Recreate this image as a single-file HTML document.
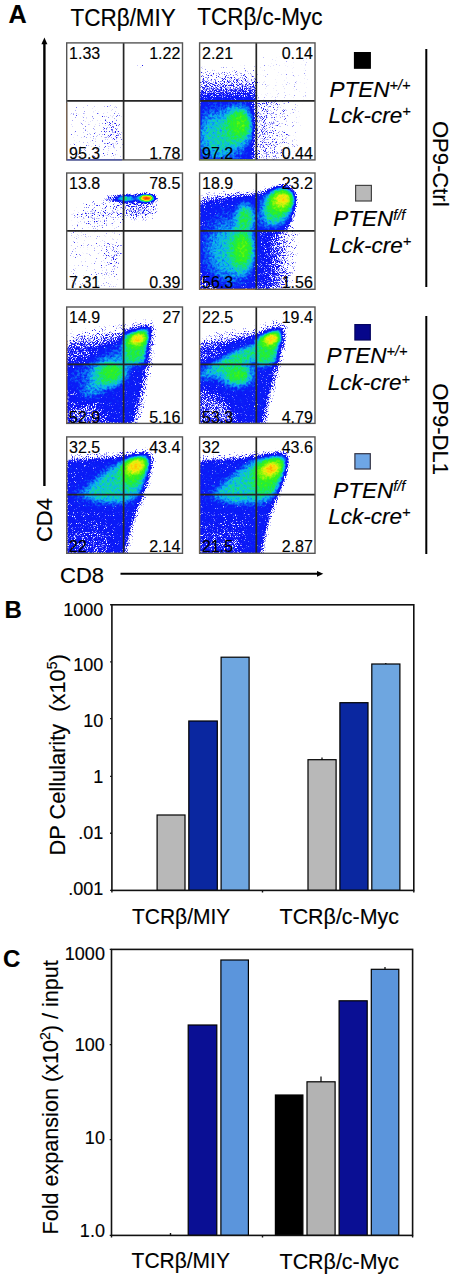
<!DOCTYPE html><html><head><meta charset="utf-8"><title>Figure</title><style>html,body{margin:0;padding:0;background:#fff}svg text{stroke:#000;stroke-width:0.15px;paint-order:stroke}body{width:453px;height:1280px;overflow:hidden;position:relative;font-family:"Liberation Sans",sans-serif}</style></head><body>
<svg width="453" height="1280" viewBox="0 0 453 1280" style="position:absolute;left:0;top:0" font-family='"Liberation Sans", sans-serif'>
<defs>
<filter id="jet0" filterUnits="userSpaceOnUse" x="0" y="0" width="453" height="600" color-interpolation-filters="sRGB">
<feGaussianBlur in="SourceGraphic" stdDeviation="1.4" result="d"/>
<feColorMatrix in="d" type="matrix" values="0 0 0 0 0 0 0 0 0 0 0 0 0 0 0 1 0 0 0 0" result="da"/>
<feTurbulence type="fractalNoise" baseFrequency="1.1" numOctaves="2" seed="3" result="n0"/>
<feColorMatrix in="n0" type="matrix" values="0 0 0 0 0 0 0 0 0 0 0 0 0 0 0 1 0 0 0 0" result="na"/>
<feComposite in="da" in2="na" operator="arithmetic" k1="0" k2="14" k3="6" k4="-4.7" result="cov0"/>
<feComponentTransfer in="da" result="msk"><feFuncA type="linear" slope="40" intercept="-1.2"/></feComponentTransfer>
<feComposite in="cov0" in2="msk" operator="in" result="cov"/>
<feTurbulence type="fractalNoise" baseFrequency="0.4" numOctaves="2" seed="11" result="m0"/>
<feColorMatrix in="m0" type="matrix" values="1 0 0 0 0 1 0 0 0 0 1 0 0 0 0 0 0 0 0 1" result="m"/>
<feComposite in="d" in2="m" operator="arithmetic" k1="0" k2="1" k3="0.16" k4="-0.08" result="dn"/>
<feComponentTransfer in="dn" result="col">
<feFuncR type="table" tableValues="0.15 0.13 0.12 0.08 0.05 0.04 0.04 0.04 0.05 0.07 0.12 0.22 0.45 0.72 0.95 1 1 1 1 1 1"/>
<feFuncG type="table" tableValues="0.12 0.11 0.1 0.09 0.08 0.1 0.12 0.4 0.7 0.85 0.93 0.95 0.97 0.96 0.93 0.8 0.65 0.5 0.35 0.2 0.1"/>
<feFuncB type="table" tableValues="0.92 0.93 0.95 0.96 0.97 0.97 0.97 0.96 0.95 0.6 0.25 0.1 0.05 0.05 0.05 0.02 0 0 0 0 0"/>
<feFuncA type="linear" slope="0" intercept="1"/>
</feComponentTransfer>
<feComposite in="col" in2="cov" operator="in"/>
<feGaussianBlur stdDeviation="0.6"/>
</filter>
<filter id="jet1" filterUnits="userSpaceOnUse" x="0" y="0" width="453" height="600" color-interpolation-filters="sRGB">
<feGaussianBlur in="SourceGraphic" stdDeviation="1.4" result="d"/>
<feColorMatrix in="d" type="matrix" values="0 0 0 0 0 0 0 0 0 0 0 0 0 0 0 1 0 0 0 0" result="da"/>
<feTurbulence type="fractalNoise" baseFrequency="1.1" numOctaves="2" seed="10" result="n0"/>
<feColorMatrix in="n0" type="matrix" values="0 0 0 0 0 0 0 0 0 0 0 0 0 0 0 1 0 0 0 0" result="na"/>
<feComposite in="da" in2="na" operator="arithmetic" k1="0" k2="14" k3="6" k4="-4.7" result="cov0"/>
<feComponentTransfer in="da" result="msk"><feFuncA type="linear" slope="40" intercept="-1.2"/></feComponentTransfer>
<feComposite in="cov0" in2="msk" operator="in" result="cov"/>
<feTurbulence type="fractalNoise" baseFrequency="0.4" numOctaves="2" seed="16" result="m0"/>
<feColorMatrix in="m0" type="matrix" values="1 0 0 0 0 1 0 0 0 0 1 0 0 0 0 0 0 0 0 1" result="m"/>
<feComposite in="d" in2="m" operator="arithmetic" k1="0" k2="1" k3="0.16" k4="-0.08" result="dn"/>
<feComponentTransfer in="dn" result="col">
<feFuncR type="table" tableValues="0.15 0.13 0.12 0.08 0.05 0.04 0.04 0.04 0.05 0.07 0.12 0.22 0.45 0.72 0.95 1 1 1 1 1 1"/>
<feFuncG type="table" tableValues="0.12 0.11 0.1 0.09 0.08 0.1 0.12 0.4 0.7 0.85 0.93 0.95 0.97 0.96 0.93 0.8 0.65 0.5 0.35 0.2 0.1"/>
<feFuncB type="table" tableValues="0.92 0.93 0.95 0.96 0.97 0.97 0.97 0.96 0.95 0.6 0.25 0.1 0.05 0.05 0.05 0.02 0 0 0 0 0"/>
<feFuncA type="linear" slope="0" intercept="1"/>
</feComponentTransfer>
<feComposite in="col" in2="cov" operator="in"/>
<feGaussianBlur stdDeviation="0.6"/>
</filter>
<filter id="jet2" filterUnits="userSpaceOnUse" x="0" y="0" width="453" height="600" color-interpolation-filters="sRGB">
<feGaussianBlur in="SourceGraphic" stdDeviation="1.4" result="d"/>
<feColorMatrix in="d" type="matrix" values="0 0 0 0 0 0 0 0 0 0 0 0 0 0 0 1 0 0 0 0" result="da"/>
<feTurbulence type="fractalNoise" baseFrequency="1.1" numOctaves="2" seed="17" result="n0"/>
<feColorMatrix in="n0" type="matrix" values="0 0 0 0 0 0 0 0 0 0 0 0 0 0 0 1 0 0 0 0" result="na"/>
<feComposite in="da" in2="na" operator="arithmetic" k1="0" k2="14" k3="6" k4="-4.7" result="cov0"/>
<feComponentTransfer in="da" result="msk"><feFuncA type="linear" slope="40" intercept="-1.2"/></feComponentTransfer>
<feComposite in="cov0" in2="msk" operator="in" result="cov"/>
<feTurbulence type="fractalNoise" baseFrequency="0.4" numOctaves="2" seed="21" result="m0"/>
<feColorMatrix in="m0" type="matrix" values="1 0 0 0 0 1 0 0 0 0 1 0 0 0 0 0 0 0 0 1" result="m"/>
<feComposite in="d" in2="m" operator="arithmetic" k1="0" k2="1" k3="0.16" k4="-0.08" result="dn"/>
<feComponentTransfer in="dn" result="col">
<feFuncR type="table" tableValues="0.15 0.13 0.12 0.08 0.05 0.04 0.04 0.04 0.05 0.07 0.12 0.22 0.45 0.72 0.95 1 1 1 1 1 1"/>
<feFuncG type="table" tableValues="0.12 0.11 0.1 0.09 0.08 0.1 0.12 0.4 0.7 0.85 0.93 0.95 0.97 0.96 0.93 0.8 0.65 0.5 0.35 0.2 0.1"/>
<feFuncB type="table" tableValues="0.92 0.93 0.95 0.96 0.97 0.97 0.97 0.96 0.95 0.6 0.25 0.1 0.05 0.05 0.05 0.02 0 0 0 0 0"/>
<feFuncA type="linear" slope="0" intercept="1"/>
</feComponentTransfer>
<feComposite in="col" in2="cov" operator="in"/>
<feGaussianBlur stdDeviation="0.6"/>
</filter>
<filter id="jet3" filterUnits="userSpaceOnUse" x="0" y="0" width="453" height="600" color-interpolation-filters="sRGB">
<feGaussianBlur in="SourceGraphic" stdDeviation="1.4" result="d"/>
<feColorMatrix in="d" type="matrix" values="0 0 0 0 0 0 0 0 0 0 0 0 0 0 0 1 0 0 0 0" result="da"/>
<feTurbulence type="fractalNoise" baseFrequency="1.1" numOctaves="2" seed="24" result="n0"/>
<feColorMatrix in="n0" type="matrix" values="0 0 0 0 0 0 0 0 0 0 0 0 0 0 0 1 0 0 0 0" result="na"/>
<feComposite in="da" in2="na" operator="arithmetic" k1="0" k2="14" k3="6" k4="-4.7" result="cov0"/>
<feComponentTransfer in="da" result="msk"><feFuncA type="linear" slope="40" intercept="-1.2"/></feComponentTransfer>
<feComposite in="cov0" in2="msk" operator="in" result="cov"/>
<feTurbulence type="fractalNoise" baseFrequency="0.4" numOctaves="2" seed="26" result="m0"/>
<feColorMatrix in="m0" type="matrix" values="1 0 0 0 0 1 0 0 0 0 1 0 0 0 0 0 0 0 0 1" result="m"/>
<feComposite in="d" in2="m" operator="arithmetic" k1="0" k2="1" k3="0.16" k4="-0.08" result="dn"/>
<feComponentTransfer in="dn" result="col">
<feFuncR type="table" tableValues="0.15 0.13 0.12 0.08 0.05 0.04 0.04 0.04 0.05 0.07 0.12 0.22 0.45 0.72 0.95 1 1 1 1 1 1"/>
<feFuncG type="table" tableValues="0.12 0.11 0.1 0.09 0.08 0.1 0.12 0.4 0.7 0.85 0.93 0.95 0.97 0.96 0.93 0.8 0.65 0.5 0.35 0.2 0.1"/>
<feFuncB type="table" tableValues="0.92 0.93 0.95 0.96 0.97 0.97 0.97 0.96 0.95 0.6 0.25 0.1 0.05 0.05 0.05 0.02 0 0 0 0 0"/>
<feFuncA type="linear" slope="0" intercept="1"/>
</feComponentTransfer>
<feComposite in="col" in2="cov" operator="in"/>
<feGaussianBlur stdDeviation="0.6"/>
</filter>
<filter id="bl1" x="-50%" y="-50%" width="200%" height="200%"><feGaussianBlur stdDeviation="1"/></filter><filter id="bl2" x="-50%" y="-50%" width="200%" height="200%"><feGaussianBlur stdDeviation="2"/></filter><filter id="bl3" x="-50%" y="-50%" width="200%" height="200%"><feGaussianBlur stdDeviation="3"/></filter><filter id="bl4" x="-50%" y="-50%" width="200%" height="200%"><feGaussianBlur stdDeviation="4"/></filter><filter id="bl5" x="-50%" y="-50%" width="200%" height="200%"><feGaussianBlur stdDeviation="5"/></filter><filter id="bl6" x="-50%" y="-50%" width="200%" height="200%"><feGaussianBlur stdDeviation="6"/></filter><filter id="bl8" x="-50%" y="-50%" width="200%" height="200%"><feGaussianBlur stdDeviation="8"/></filter>
<filter id="b2" x="-50%" y="-50%" width="200%" height="200%"><feGaussianBlur stdDeviation="2"/></filter>
<filter id="b4" x="-50%" y="-50%" width="200%" height="200%"><feGaussianBlur stdDeviation="4"/></filter>
<filter id="b6" x="-50%" y="-50%" width="200%" height="200%"><feGaussianBlur stdDeviation="6"/></filter>
<clipPath id="c00"><rect x="66.7" y="42.9" width="115.8" height="117.0"/></clipPath>
<clipPath id="c01"><rect x="199.6" y="42.9" width="115.4" height="117.0"/></clipPath>
<clipPath id="c10"><rect x="66.7" y="173.0" width="115.8" height="116.30000000000001"/></clipPath>
<clipPath id="c11"><rect x="199.6" y="173.0" width="115.4" height="116.30000000000001"/></clipPath>
<clipPath id="c20"><rect x="66.7" y="307.0" width="115.8" height="116.39999999999998"/></clipPath>
<clipPath id="c21"><rect x="199.6" y="307.0" width="115.4" height="116.39999999999998"/></clipPath>
<clipPath id="c30"><rect x="66.7" y="436.9" width="115.8" height="116.39999999999998"/></clipPath>
<clipPath id="c31"><rect x="199.6" y="436.9" width="115.4" height="116.39999999999998"/></clipPath>
</defs>
<text transform="translate(8.6 23.2)" font-size="25.2" text-anchor="start" font-weight="bold" font-style="normal" >A</text>
<text transform="translate(70.5 25.8) scale(1.0 1.05)" font-size="22.5" text-anchor="start" font-weight="normal" font-style="normal" >TCR&#946;/MIY</text>
<text transform="translate(197.2 25.3) scale(1.0 1.05)" font-size="22.5" text-anchor="start" font-weight="normal" font-style="normal" >TCR&#946;/c-Myc</text>
<g clip-path="url(#c00)">
<g filter="url(#jet0)">
<rect x="58.7" y="34.9" width="131.8" height="133.0" fill="#000"/>
<path d="M68.0 104.0L123.0 103.0L123.0 160.0L68.0 160.0Z" fill="#0d0d0d" filter="url(#bl4)"/><ellipse cx="112.0" cy="132.0" rx="14" ry="28" fill="url(#r10)"/><ellipse cx="140.0" cy="66.0" rx="5" ry="5" fill="url(#r10)"/>
</g></g>
<path d="M123.6 42.9V159.9M66.7 100.9H182.5" stroke="#252525" stroke-width="1.7" fill="none"/>
<rect x="66.7" y="42.9" width="115.8" height="117.0" fill="none" stroke="#555" stroke-width="1.4"/>
<text transform="translate(69.10000000000001 59.2)" font-size="16" text-anchor="start" font-weight="normal" font-style="normal" >1.33</text>
<text transform="translate(180.3 59.2)" font-size="16" text-anchor="end" font-weight="normal" font-style="normal" >1.22</text>
<text transform="translate(69.10000000000001 159.0)" font-size="16" text-anchor="start" font-weight="normal" font-style="normal" >95.3</text>
<text transform="translate(180.3 159.0)" font-size="16" text-anchor="end" font-weight="normal" font-style="normal" >1.78</text>
<g clip-path="url(#c01)">
<g filter="url(#jet1)">
<rect x="191.6" y="34.9" width="131.4" height="133.0" fill="#000"/>
<path d="M199.0 66.0L257.0 64.0L262.0 100.5L199.0 100.5Z" fill="url(#g01)"/><path d="M199.0 99.0L254.5 99.0L254.5 161.0L199.0 161.0Z" fill="#454545" filter="url(#bl1)"/><ellipse cx="220.0" cy="136.0" rx="34" ry="38" fill="url(#r44)"/><ellipse cx="239.0" cy="125.0" rx="19" ry="26" fill="url(#r52)"/><ellipse cx="240.0" cy="123.0" rx="11" ry="15" fill="url(#r55)"/><path d="M255.5 100.0L305.0 100.0L300.0 161.0L255.5 161.0Z" fill="url(#g01b)"/><path d="M257.0 55.0L310.0 55.0L310.0 100.0L257.0 100.0Z" fill="#0b0b0b"/>
</g></g>
<path d="M256.3 42.9V159.9M199.6 100.9H315.0" stroke="#252525" stroke-width="1.7" fill="none"/>
<rect x="199.6" y="42.9" width="115.4" height="117.0" fill="none" stroke="#555" stroke-width="1.4"/>
<text transform="translate(202.0 59.2)" font-size="16" text-anchor="start" font-weight="normal" font-style="normal" >2.21</text>
<text transform="translate(312.8 59.2)" font-size="16" text-anchor="end" font-weight="normal" font-style="normal" >0.14</text>
<text transform="translate(202.0 159.0)" font-size="16" text-anchor="start" font-weight="normal" font-style="normal" >97.2</text>
<text transform="translate(312.8 159.0)" font-size="16" text-anchor="end" font-weight="normal" font-style="normal" >0.44</text>
<g clip-path="url(#c10)">
<g filter="url(#jet2)">
<rect x="58.7" y="165.0" width="131.8" height="132.3" fill="#000"/>
<path d="M68.0 212.0L123.0 212.0L123.0 289.0L68.0 289.0Z" fill="#0b0b0b" filter="url(#bl4)"/><ellipse cx="112.0" cy="252.0" rx="14" ry="22" fill="url(#r9)"/><ellipse cx="100.0" cy="212.0" rx="34" ry="18" fill="url(#r10)"/><ellipse cx="138.0" cy="209.0" rx="30" ry="17" fill="url(#r14)"/><ellipse cx="128.0" cy="198.5" rx="24" ry="3.6" fill="#383838" filter="url(#bl1)"/><ellipse cx="126.0" cy="198.5" rx="13" ry="4.5" fill="url(#r50)"/><ellipse cx="146.0" cy="198.0" rx="14" ry="6" fill="url(#r52)"/><ellipse cx="147.0" cy="198.0" rx="8" ry="3.4" fill="url(#r70)"/><ellipse cx="146.5" cy="198.3" rx="5.5" ry="2.4" fill="#ffffff"/>
</g></g>
<path d="M123.6 173.0V289.3M66.7 230.9H182.5" stroke="#252525" stroke-width="1.7" fill="none"/>
<rect x="66.7" y="173.0" width="115.8" height="116.30000000000001" fill="none" stroke="#555" stroke-width="1.4"/>
<text transform="translate(69.10000000000001 189.3)" font-size="16" text-anchor="start" font-weight="normal" font-style="normal" >13.8</text>
<text transform="translate(180.3 189.3)" font-size="16" text-anchor="end" font-weight="normal" font-style="normal" >78.5</text>
<text transform="translate(69.10000000000001 288.40000000000003)" font-size="16" text-anchor="start" font-weight="normal" font-style="normal" >7.31</text>
<text transform="translate(180.3 288.40000000000003)" font-size="16" text-anchor="end" font-weight="normal" font-style="normal" >0.39</text>
<g clip-path="url(#c11)">
<g filter="url(#jet3)">
<rect x="191.6" y="165.0" width="131.4" height="132.3" fill="#000"/>
<path d="M199.0 191.0L257.0 187.0L289.0 183.0L295.0 190.0L290.0 230.0L199.0 230.0Z" fill="#0d0d0d" filter="url(#bl2)"/><path d="M199.0 196.0L257.0 190.0L289.0 186.0L295.0 192.0L291.0 230.0L199.0 230.0Z" fill="#1c1c1c" filter="url(#bl2)"/><path d="M199.0 200.0L257.0 193.0L287.0 188.0L294.0 194.0L291.0 230.0L199.0 230.0Z" fill="#2e2e2e" filter="url(#bl2)"/><path d="M199.0 204.0L230.0 199.0L257.0 194.5L285.0 190.0L293.0 196.0L291.0 215.0L283.0 230.0L199.0 230.0Z" fill="#454545" filter="url(#bl1)"/><path d="M256.0 229.0L303.0 229.0L292.0 290.0L256.0 290.0Z" fill="url(#g11b)" filter="url(#bl2)"/><path d="M199.0 229.0L256.0 229.0L256.0 290.0L199.0 290.0Z" fill="#454545" filter="url(#bl1)"/><path d="M199.0 270.0L224.0 290.0L199.0 290.0Z" fill="#2b2b2b" filter="url(#bl3)"/><ellipse cx="229.0" cy="250.0" rx="34" ry="46" fill="url(#r42)"/><ellipse cx="242.0" cy="250.0" rx="16" ry="30" fill="url(#r53)"/><ellipse cx="243.0" cy="248.0" rx="9" ry="16" fill="url(#r56)"/><ellipse cx="245.0" cy="218.0" rx="13" ry="20" fill="url(#r50)"/><ellipse cx="276.0" cy="210.0" rx="22" ry="30" fill="url(#r42)" transform="rotate(30 276 210)"/><ellipse cx="279.0" cy="204.0" rx="17" ry="23" fill="url(#r54)" transform="rotate(30 279 204)"/><ellipse cx="282.0" cy="200.0" rx="15" ry="13" fill="url(#r66)"/><ellipse cx="283.0" cy="199.0" rx="8" ry="7" fill="url(#r72)"/>
</g></g>
<path d="M256.3 173.0V289.3M199.6 230.9H315.0" stroke="#252525" stroke-width="1.7" fill="none"/>
<rect x="199.6" y="173.0" width="115.4" height="116.30000000000001" fill="none" stroke="#555" stroke-width="1.4"/>
<text transform="translate(202.0 189.3)" font-size="16" text-anchor="start" font-weight="normal" font-style="normal" >18.9</text>
<text transform="translate(312.8 189.3)" font-size="16" text-anchor="end" font-weight="normal" font-style="normal" >23.2</text>
<text transform="translate(202.0 288.40000000000003)" font-size="16" text-anchor="start" font-weight="normal" font-style="normal" >56.3</text>
<text transform="translate(312.8 288.40000000000003)" font-size="16" text-anchor="end" font-weight="normal" font-style="normal" >1.56</text>
<g clip-path="url(#c20)">
<g filter="url(#jet0)">
<rect x="58.7" y="299.0" width="131.8" height="132.39999999999998" fill="#000"/>
<path d="M67.0 328.0L123.0 321.0L152.0 315.0L158.0 322.0L153.0 365.0L147.0 395.0L141.0 424.0L67.0 424.0Z" fill="#0d0d0d" filter="url(#bl3)"/><path d="M67.0 336.0L123.0 327.0L150.0 322.0L154.0 328.0L151.0 365.0L145.0 395.0L138.0 424.0L67.0 424.0Z" fill="#1f1f1f" filter="url(#bl3)"/><path d="M67.0 344.0L123.0 333.0L150.0 325.0L152.0 330.0L149.0 365.0L143.0 395.0L136.0 424.0L67.0 424.0Z" fill="#2b2b2b" filter="url(#bl3)"/><path d="M67.0 353.0L100.0 346.0L123.0 339.0L149.0 328.0L147.0 345.0L145.0 364.0L139.0 395.0L132.0 424.0L67.0 424.0Z" fill="#454545" filter="url(#bl1)"/><path d="M67.0 386.0L67.0 424.0L112.0 424.0L90.0 398.0Z" fill="#2b2b2b" filter="url(#bl4)"/><path d="M66.0 346.0L92.0 341.0L96.0 356.0L66.0 366.0Z" fill="#333333" filter="url(#bl4)"/><ellipse cx="100.0" cy="364.0" rx="60" ry="12" fill="url(#r34)" transform="rotate(-30 100 364)"/><ellipse cx="104.0" cy="378.0" rx="48" ry="16" fill="url(#r40)" transform="rotate(-40 104 378)"/><path d="M123.0 334.0L149.0 327.0L147.0 346.0L145.0 364.0L123.0 367.0Z" fill="#6b6b6b" filter="url(#bl2)"/><path d="M125.0 337.0L136.0 333.0L148.0 329.0L146.0 345.0L143.0 357.0L133.0 362.0L125.0 361.0Z" fill="#808080" filter="url(#bl2)"/><ellipse cx="110.0" cy="374.0" rx="22" ry="17" fill="url(#r50)"/><ellipse cx="112.0" cy="371.0" rx="12" ry="9" fill="url(#r53)"/><ellipse cx="137.6" cy="339.5" rx="13" ry="9" fill="url(#r64)" transform="rotate(-20 137.6 339.5)"/><ellipse cx="137.6" cy="339.0" rx="9" ry="6.5" fill="url(#r74)" transform="rotate(-20 137.6 339)"/>
</g></g>
<path d="M123.6 307.0V423.4M66.7 364.4H182.5" stroke="#252525" stroke-width="1.7" fill="none"/>
<rect x="66.7" y="307.0" width="115.8" height="116.39999999999998" fill="none" stroke="#555" stroke-width="1.4"/>
<text transform="translate(69.10000000000001 323.3)" font-size="16" text-anchor="start" font-weight="normal" font-style="normal" >14.9</text>
<text transform="translate(180.3 323.3)" font-size="16" text-anchor="end" font-weight="normal" font-style="normal" >27</text>
<text transform="translate(69.10000000000001 422.5)" font-size="16" text-anchor="start" font-weight="normal" font-style="normal" >52.9</text>
<text transform="translate(180.3 422.5)" font-size="16" text-anchor="end" font-weight="normal" font-style="normal" >5.16</text>
<g clip-path="url(#c21)">
<g filter="url(#jet1)">
<rect x="191.6" y="299.0" width="131.4" height="132.39999999999998" fill="#000"/>
<path d="M199.0 332.0L256.0 324.0L284.0 315.0L290.0 322.0L283.0 365.0L274.0 395.0L268.0 424.0L199.0 424.0Z" fill="#0d0d0d" filter="url(#bl3)"/><path d="M199.0 338.0L256.0 329.0L283.0 321.0L287.0 328.0L280.0 365.0L271.0 395.0L265.0 424.0L199.0 424.0Z" fill="#1a1a1a" filter="url(#bl3)"/><path d="M199.0 344.0L256.0 334.0L283.0 325.0L285.0 330.0L279.0 365.0L270.0 395.0L264.0 424.0L199.0 424.0Z" fill="#2b2b2b" filter="url(#bl3)"/><path d="M199.0 350.0L224.0 344.0L256.0 336.0L281.0 328.0L278.0 345.0L275.0 366.0L268.0 395.0L262.0 424.0L199.0 424.0Z" fill="#454545" filter="url(#bl1)"/><path d="M199.0 386.0L199.0 424.0L244.0 424.0L222.0 398.0Z" fill="#2b2b2b" filter="url(#bl4)"/><path d="M198.0 349.0L222.0 344.0L226.0 356.0L198.0 364.0Z" fill="#333333" filter="url(#bl4)"/><ellipse cx="232.0" cy="364.0" rx="62" ry="14" fill="url(#r36)" transform="rotate(-22 232 364)"/><ellipse cx="240.0" cy="358.0" rx="50" ry="11" fill="url(#r47)" transform="rotate(-24 240 358)"/><path d="M256.0 337.0L281.0 329.0L278.0 346.0L276.0 364.0L256.0 368.0Z" fill="#6b6b6b" filter="url(#bl2)"/><path d="M258.0 340.0L270.0 335.0L280.0 331.0L277.0 347.0L274.0 358.0L264.0 363.0L258.0 362.0Z" fill="#808080" filter="url(#bl2)"/><ellipse cx="237.0" cy="375.0" rx="24" ry="17" fill="url(#r48)"/><ellipse cx="238.0" cy="375.0" rx="13" ry="9" fill="url(#r53)"/><ellipse cx="271.0" cy="339.5" rx="13" ry="9" fill="url(#r64)" transform="rotate(-20 271 339.5)"/><ellipse cx="271.0" cy="339.0" rx="9" ry="6.5" fill="url(#r74)" transform="rotate(-20 271 339)"/>
</g></g>
<path d="M256.3 307.0V423.4M199.6 364.4H315.0" stroke="#252525" stroke-width="1.7" fill="none"/>
<rect x="199.6" y="307.0" width="115.4" height="116.39999999999998" fill="none" stroke="#555" stroke-width="1.4"/>
<text transform="translate(202.0 323.3)" font-size="16" text-anchor="start" font-weight="normal" font-style="normal" >22.5</text>
<text transform="translate(312.8 323.3)" font-size="16" text-anchor="end" font-weight="normal" font-style="normal" >19.4</text>
<text transform="translate(202.0 422.5)" font-size="16" text-anchor="start" font-weight="normal" font-style="normal" >53.3</text>
<text transform="translate(312.8 422.5)" font-size="16" text-anchor="end" font-weight="normal" font-style="normal" >4.79</text>
<g clip-path="url(#c30)">
<g filter="url(#jet2)">
<rect x="58.7" y="428.9" width="131.8" height="132.39999999999998" fill="#000"/>
<path d="M67.0 452.0L123.0 449.0L152.0 445.0L158.0 452.0L152.0 480.0L146.0 500.0L137.0 525.0L131.0 554.0L67.0 554.0Z" fill="#0f0f0f" filter="url(#bl3)"/><path d="M67.0 457.0L123.0 453.0L150.0 450.0L154.0 457.0L148.0 480.0L143.0 500.0L134.0 525.0L128.0 554.0L67.0 554.0Z" fill="#212121" filter="url(#bl2)"/><path d="M67.0 461.0L123.0 458.0L149.0 456.0L146.0 478.0L141.0 497.0L131.0 524.0L124.0 554.0L67.0 554.0Z" fill="#454545" filter="url(#bl1)"/><path d="M67.0 508.0L115.0 508.0L110.0 554.0L67.0 554.0Z" fill="url(#g30b)" filter="url(#bl3)"/><path d="M70.0 496.0L108.0 469.0L123.0 461.0L147.0 457.0L145.0 478.0L138.0 495.0L125.0 503.0L96.0 503.0Z" fill="#5c5c5c" filter="url(#bl4)"/><path d="M84.0 494.0L106.0 472.0L123.0 463.0L146.0 458.0L145.0 478.0L138.0 495.0L125.0 502.0L98.0 501.0Z" fill="#6e6e6e" filter="url(#bl3)"/><path d="M122.0 465.0L135.0 459.5L147.0 458.0L145.0 472.0L138.0 484.0L127.0 487.0L120.0 480.0Z" fill="#858585" filter="url(#bl3)"/><ellipse cx="135.4" cy="466.5" rx="17" ry="12" fill="url(#r66)" transform="rotate(-25 135.4 466.5)"/><ellipse cx="135.4" cy="466.3" rx="11" ry="8" fill="url(#r74)" transform="rotate(-25 135.4 466.3)"/>
</g></g>
<path d="M123.6 436.9V553.3M66.7 494.6H182.5" stroke="#252525" stroke-width="1.7" fill="none"/>
<rect x="66.7" y="436.9" width="115.8" height="116.39999999999998" fill="none" stroke="#555" stroke-width="1.4"/>
<text transform="translate(69.10000000000001 453.2)" font-size="16" text-anchor="start" font-weight="normal" font-style="normal" >32.5</text>
<text transform="translate(180.3 453.2)" font-size="16" text-anchor="end" font-weight="normal" font-style="normal" >43.4</text>
<text transform="translate(69.10000000000001 552.4)" font-size="16" text-anchor="start" font-weight="normal" font-style="normal" >22</text>
<text transform="translate(180.3 552.4)" font-size="16" text-anchor="end" font-weight="normal" font-style="normal" >2.14</text>
<g clip-path="url(#c31)">
<g filter="url(#jet3)">
<rect x="191.6" y="428.9" width="131.4" height="132.39999999999998" fill="#000"/>
<path d="M199.0 454.0L256.0 449.0L286.0 447.0L292.0 453.0L284.0 480.0L279.0 500.0L272.0 525.0L266.0 554.0L199.0 554.0Z" fill="#0f0f0f" filter="url(#bl3)"/><path d="M199.0 458.0L256.0 454.0L284.0 451.0L289.0 457.0L281.0 480.0L276.0 500.0L269.0 525.0L263.0 554.0L199.0 554.0Z" fill="#212121" filter="url(#bl2)"/><path d="M199.0 462.0L224.0 460.0L256.0 457.0L285.0 455.5L280.0 478.0L276.0 496.0L267.0 524.0L260.0 554.0L199.0 554.0Z" fill="#454545" filter="url(#bl1)"/><path d="M199.0 508.0L248.0 508.0L243.0 554.0L199.0 554.0Z" fill="url(#g31b)" filter="url(#bl3)"/><path d="M205.0 497.0L232.0 476.0L243.0 467.0L256.0 460.0L284.0 457.0L282.0 476.0L275.0 495.0L262.0 503.0L230.0 504.0Z" fill="#5c5c5c" filter="url(#bl4)"/><path d="M214.0 495.0L232.0 478.0L244.0 469.0L256.0 462.0L284.0 457.0L282.0 476.0L275.0 495.0L262.0 502.0L232.0 502.0Z" fill="#6e6e6e" filter="url(#bl3)"/><path d="M254.0 466.0L268.0 460.0L285.0 457.0L282.0 474.0L274.0 489.0L262.0 494.0L252.0 486.0Z" fill="#858585" filter="url(#bl3)"/><ellipse cx="270.0" cy="469.5" rx="18" ry="12" fill="url(#r67)" transform="rotate(-25 270 469.5)"/><ellipse cx="271.0" cy="469.0" rx="9" ry="6" fill="url(#r78)" transform="rotate(-25 271 469)"/>
</g></g>
<path d="M256.3 436.9V553.3M199.6 494.6H315.0" stroke="#252525" stroke-width="1.7" fill="none"/>
<rect x="199.6" y="436.9" width="115.4" height="116.39999999999998" fill="none" stroke="#555" stroke-width="1.4"/>
<text transform="translate(202.0 453.2)" font-size="16" text-anchor="start" font-weight="normal" font-style="normal" >32</text>
<text transform="translate(312.8 453.2)" font-size="16" text-anchor="end" font-weight="normal" font-style="normal" >43.6</text>
<text transform="translate(202.0 552.4)" font-size="16" text-anchor="start" font-weight="normal" font-style="normal" >21.5</text>
<text transform="translate(312.8 552.4)" font-size="16" text-anchor="end" font-weight="normal" font-style="normal" >2.87</text>
<path d="M66.7 103L66.7 159.9" stroke="#8a6a50" stroke-width="1.3" stroke-opacity="0.65"/>
<path d="M67 159.9L122 159.9" stroke="#3040d0" stroke-width="1.3" stroke-opacity="0.65"/>
<path d="M200 159.9L255 159.9" stroke="#90b040" stroke-width="1.3" stroke-opacity="0.65"/>
<path d="M199.6 103L199.6 159.9" stroke="#707050" stroke-width="1.3" stroke-opacity="0.65"/>
<path d="M200 289.3L255 289.3" stroke="#c08030" stroke-width="1.3" stroke-opacity="0.65"/>
<path d="M199.6 195L199.6 289.3" stroke="#806040" stroke-width="1.3" stroke-opacity="0.65"/>
<path d="M66.7 340L66.7 423.4" stroke="#8a6040" stroke-width="1.3" stroke-opacity="0.65"/>
<path d="M199.6 345L199.6 423.4" stroke="#807050" stroke-width="1.3" stroke-opacity="0.65"/>
<path d="M66.7 460L66.7 553.3" stroke="#7a6a50" stroke-width="1.3" stroke-opacity="0.65"/>
<path d="M199.6 462L199.6 553.3" stroke="#7a6a50" stroke-width="1.3" stroke-opacity="0.65"/>
<defs><radialGradient id="r10"><stop offset="0" stop-color="#1a1a1a"/><stop offset="0.35" stop-color="#1a1a1a" stop-opacity="0.9"/><stop offset="0.7" stop-color="#1a1a1a" stop-opacity="0.4"/><stop offset="1" stop-color="#1a1a1a" stop-opacity="0"/></radialGradient><linearGradient id="g01" gradientUnits="userSpaceOnUse" x1="0" y1="68" x2="0" y2="100"><stop offset="0" stop-color="#0d0d0d"/><stop offset="0.35" stop-color="#1c1c1c"/><stop offset="0.7" stop-color="#2b2b2b"/><stop offset="1" stop-color="#454545"/></linearGradient><radialGradient id="r44"><stop offset="0" stop-color="#707070"/><stop offset="0.35" stop-color="#707070" stop-opacity="0.9"/><stop offset="0.7" stop-color="#707070" stop-opacity="0.4"/><stop offset="1" stop-color="#707070" stop-opacity="0"/></radialGradient><radialGradient id="r52"><stop offset="0" stop-color="#858585"/><stop offset="0.35" stop-color="#858585" stop-opacity="0.9"/><stop offset="0.7" stop-color="#858585" stop-opacity="0.4"/><stop offset="1" stop-color="#858585" stop-opacity="0"/></radialGradient><radialGradient id="r55"><stop offset="0" stop-color="#8c8c8c"/><stop offset="0.35" stop-color="#8c8c8c" stop-opacity="0.9"/><stop offset="0.7" stop-color="#8c8c8c" stop-opacity="0.4"/><stop offset="1" stop-color="#8c8c8c" stop-opacity="0"/></radialGradient><linearGradient id="g01b" gradientUnits="userSpaceOnUse" x1="256" y1="0" x2="300" y2="0"><stop offset="0" stop-color="#1f1f1f"/><stop offset="1" stop-color="#090909"/></linearGradient><radialGradient id="r9"><stop offset="0" stop-color="#171717"/><stop offset="0.35" stop-color="#171717" stop-opacity="0.9"/><stop offset="0.7" stop-color="#171717" stop-opacity="0.4"/><stop offset="1" stop-color="#171717" stop-opacity="0"/></radialGradient><radialGradient id="r14"><stop offset="0" stop-color="#242424"/><stop offset="0.35" stop-color="#242424" stop-opacity="0.9"/><stop offset="0.7" stop-color="#242424" stop-opacity="0.4"/><stop offset="1" stop-color="#242424" stop-opacity="0"/></radialGradient><radialGradient id="r50"><stop offset="0" stop-color="#808080"/><stop offset="0.35" stop-color="#808080" stop-opacity="0.9"/><stop offset="0.7" stop-color="#808080" stop-opacity="0.4"/><stop offset="1" stop-color="#808080" stop-opacity="0"/></radialGradient><radialGradient id="r70"><stop offset="0" stop-color="#b2b2b2"/><stop offset="0.35" stop-color="#b2b2b2" stop-opacity="0.9"/><stop offset="0.7" stop-color="#b2b2b2" stop-opacity="0.4"/><stop offset="1" stop-color="#b2b2b2" stop-opacity="0"/></radialGradient><linearGradient id="g11b" gradientUnits="userSpaceOnUse" x1="257" y1="0" x2="300" y2="0"><stop offset="0" stop-color="#454545"/><stop offset="0.4" stop-color="#303030"/><stop offset="1" stop-color="#0a0a0a"/></linearGradient><radialGradient id="r42"><stop offset="0" stop-color="#6b6b6b"/><stop offset="0.35" stop-color="#6b6b6b" stop-opacity="0.9"/><stop offset="0.7" stop-color="#6b6b6b" stop-opacity="0.4"/><stop offset="1" stop-color="#6b6b6b" stop-opacity="0"/></radialGradient><radialGradient id="r53"><stop offset="0" stop-color="#878787"/><stop offset="0.35" stop-color="#878787" stop-opacity="0.9"/><stop offset="0.7" stop-color="#878787" stop-opacity="0.4"/><stop offset="1" stop-color="#878787" stop-opacity="0"/></radialGradient><radialGradient id="r56"><stop offset="0" stop-color="#8f8f8f"/><stop offset="0.35" stop-color="#8f8f8f" stop-opacity="0.9"/><stop offset="0.7" stop-color="#8f8f8f" stop-opacity="0.4"/><stop offset="1" stop-color="#8f8f8f" stop-opacity="0"/></radialGradient><radialGradient id="r54"><stop offset="0" stop-color="#8a8a8a"/><stop offset="0.35" stop-color="#8a8a8a" stop-opacity="0.9"/><stop offset="0.7" stop-color="#8a8a8a" stop-opacity="0.4"/><stop offset="1" stop-color="#8a8a8a" stop-opacity="0"/></radialGradient><radialGradient id="r66"><stop offset="0" stop-color="#a8a8a8"/><stop offset="0.35" stop-color="#a8a8a8" stop-opacity="0.9"/><stop offset="0.7" stop-color="#a8a8a8" stop-opacity="0.4"/><stop offset="1" stop-color="#a8a8a8" stop-opacity="0"/></radialGradient><radialGradient id="r72"><stop offset="0" stop-color="#b8b8b8"/><stop offset="0.35" stop-color="#b8b8b8" stop-opacity="0.9"/><stop offset="0.7" stop-color="#b8b8b8" stop-opacity="0.4"/><stop offset="1" stop-color="#b8b8b8" stop-opacity="0"/></radialGradient><radialGradient id="r34"><stop offset="0" stop-color="#575757"/><stop offset="0.35" stop-color="#575757" stop-opacity="0.9"/><stop offset="0.7" stop-color="#575757" stop-opacity="0.4"/><stop offset="1" stop-color="#575757" stop-opacity="0"/></radialGradient><radialGradient id="r40"><stop offset="0" stop-color="#666666"/><stop offset="0.35" stop-color="#666666" stop-opacity="0.9"/><stop offset="0.7" stop-color="#666666" stop-opacity="0.4"/><stop offset="1" stop-color="#666666" stop-opacity="0"/></radialGradient><radialGradient id="r64"><stop offset="0" stop-color="#a3a3a3"/><stop offset="0.35" stop-color="#a3a3a3" stop-opacity="0.9"/><stop offset="0.7" stop-color="#a3a3a3" stop-opacity="0.4"/><stop offset="1" stop-color="#a3a3a3" stop-opacity="0"/></radialGradient><radialGradient id="r74"><stop offset="0" stop-color="#bdbdbd"/><stop offset="0.35" stop-color="#bdbdbd" stop-opacity="0.9"/><stop offset="0.7" stop-color="#bdbdbd" stop-opacity="0.4"/><stop offset="1" stop-color="#bdbdbd" stop-opacity="0"/></radialGradient><radialGradient id="r36"><stop offset="0" stop-color="#5c5c5c"/><stop offset="0.35" stop-color="#5c5c5c" stop-opacity="0.9"/><stop offset="0.7" stop-color="#5c5c5c" stop-opacity="0.4"/><stop offset="1" stop-color="#5c5c5c" stop-opacity="0"/></radialGradient><radialGradient id="r47"><stop offset="0" stop-color="#787878"/><stop offset="0.35" stop-color="#787878" stop-opacity="0.9"/><stop offset="0.7" stop-color="#787878" stop-opacity="0.4"/><stop offset="1" stop-color="#787878" stop-opacity="0"/></radialGradient><radialGradient id="r48"><stop offset="0" stop-color="#7a7a7a"/><stop offset="0.35" stop-color="#7a7a7a" stop-opacity="0.9"/><stop offset="0.7" stop-color="#7a7a7a" stop-opacity="0.4"/><stop offset="1" stop-color="#7a7a7a" stop-opacity="0"/></radialGradient><linearGradient id="g30b" gradientUnits="userSpaceOnUse" x1="0" y1="508" x2="0" y2="553"><stop offset="0" stop-color="#454545"/><stop offset="0.5" stop-color="#3b3b3b"/><stop offset="1" stop-color="#333333"/></linearGradient><linearGradient id="g31b" gradientUnits="userSpaceOnUse" x1="0" y1="508" x2="0" y2="553"><stop offset="0" stop-color="#454545"/><stop offset="0.5" stop-color="#3b3b3b"/><stop offset="1" stop-color="#333333"/></linearGradient><radialGradient id="r67"><stop offset="0" stop-color="#ababab"/><stop offset="0.35" stop-color="#ababab" stop-opacity="0.9"/><stop offset="0.7" stop-color="#ababab" stop-opacity="0.4"/><stop offset="1" stop-color="#ababab" stop-opacity="0"/></radialGradient><radialGradient id="r78"><stop offset="0" stop-color="#c7c7c7"/><stop offset="0.35" stop-color="#c7c7c7" stop-opacity="0.9"/><stop offset="0.7" stop-color="#c7c7c7" stop-opacity="0.4"/><stop offset="1" stop-color="#c7c7c7" stop-opacity="0"/></radialGradient></defs>
<path d="M44.4 486V43" stroke="#000" stroke-width="2.4"/>
<path d="M44.4 37.6L41.4 44.2H47.4Z" fill="#000"/>
<path d="M120.5 573.8H318" stroke="#000" stroke-width="2"/>
<path d="M323.3 573.8L317 570.9V576.7Z" fill="#000"/>
<text transform="translate(51.9 542.1) rotate(-90) scale(1.0 1.035)" font-size="22" text-anchor="start" font-weight="normal" font-style="normal" >CD4</text>
<text transform="translate(60 582.6) scale(1.0 1.035)" font-size="22" text-anchor="start" font-weight="normal" font-style="normal" >CD8</text>
<rect x="354.5" y="52.6" width="15.8" height="15.599999999999998" fill="#000" stroke="#000" stroke-width="1.2"/>
<text x="329.5" y="96.5" font-size="22.5" font-style="italic">PTEN<tspan font-size="14.5" dy="-6.8">+/+</tspan></text>
<text x="328.4" y="123.1" font-size="22.5" font-style="italic">Lck-cre<tspan font-size="14.5" dy="-6.8">+</tspan></text>
<rect x="355.6" y="185.4" width="15.8" height="15.599999999999984" fill="#b9b9b9" stroke="#444" stroke-width="1.2"/>
<text x="333.2" y="226.4" font-size="22.5" font-style="italic">PTEN<tspan font-size="14.5" dy="-6.8">f/f</tspan></text>
<text x="328.9" y="253.1" font-size="22.5" font-style="italic">Lck-cre<tspan font-size="14.5" dy="-6.8">+</tspan></text>
<rect x="354.90000000000003" y="324.6" width="15.399999999999967" height="15.400000000000023" fill="#06068a" stroke="#050560" stroke-width="1.2"/>
<text x="326.6" y="363.2" font-size="22.5" font-style="italic">PTEN<tspan font-size="14.5" dy="-6.8">+/+</tspan></text>
<text x="327.8" y="390.3" font-size="22.5" font-style="italic">Lck-cre<tspan font-size="14.5" dy="-6.8">+</tspan></text>
<rect x="354.90000000000003" y="453.70000000000005" width="15.399999999999967" height="15.3" fill="#6ea6e6" stroke="#334" stroke-width="1.2"/>
<text x="333.2" y="497.6" font-size="22.5" font-style="italic">PTEN<tspan font-size="14.5" dy="-6.8">f/f</tspan></text>
<text x="328.3" y="524.1" font-size="22.5" font-style="italic">Lck-cre<tspan font-size="14.5" dy="-6.8">+</tspan></text>
<path d="M426.3 48.9V286.9M426.3 316V553.9" stroke="#000" stroke-width="2"/>
<text transform="translate(432.7 121) rotate(90)" font-size="22" text-anchor="start" font-weight="normal" font-style="normal" >OP9-Ctrl</text>
<text transform="translate(432.7 383.2) rotate(90)" font-size="22" text-anchor="start" font-weight="normal" font-style="normal" >OP9-DL1</text>
<text transform="translate(4.5 617.8)" font-size="24" text-anchor="start" font-weight="bold" font-style="normal" >B</text>
<rect x="157.1" y="815.0" width="27.899999999999995" height="75.39999999999998" fill="#b8b8b8" stroke="#000" stroke-width="1.2"/>
<rect x="188.79999999999998" y="721.0" width="28.500000000000018" height="169.39999999999998" fill="#0a27a0" stroke="#000" stroke-width="1.2"/>
<rect x="221.1" y="657.2" width="27.99999999999999" height="233.19999999999993" fill="#6ea6e0" stroke="#000" stroke-width="1.2"/>
<rect x="308.0" y="759.7" width="28.100000000000012" height="130.69999999999993" fill="#b8b8b8" stroke="#000" stroke-width="1.2"/>
<rect x="339.90000000000003" y="702.7" width="28.100000000000012" height="187.69999999999993" fill="#0a27a0" stroke="#000" stroke-width="1.2"/>
<rect x="371.8" y="664.0" width="28.100000000000012" height="226.39999999999998" fill="#6ea6e0" stroke="#000" stroke-width="1.2"/>
<rect x="111.9" y="604.8" width="301.9" height="285.6" fill="none" stroke="#111" stroke-width="1.6"/>
<path d="M110.10000000000001 604.8H111.9M110.10000000000001 661.9H111.9M110.10000000000001 718.6H111.9M110.10000000000001 776.4H111.9M110.10000000000001 833.2H111.9M110.10000000000001 890.4H111.9M262.5 890.4V892.6M413.8 890.4V892.6M111.9 890.4V892.6" stroke="#111" stroke-width="1.4"/>
<text transform="translate(103.2 615.9)" font-size="18" text-anchor="end" font-weight="normal" font-style="normal" >1000</text>
<text transform="translate(103.2 671.2)" font-size="18" text-anchor="end" font-weight="normal" font-style="normal" >100</text>
<text transform="translate(103.2 726.9)" font-size="18" text-anchor="end" font-weight="normal" font-style="normal" >10</text>
<text transform="translate(103.2 782.9)" font-size="18" text-anchor="end" font-weight="normal" font-style="normal" >1</text>
<text transform="translate(103.2 838.8)" font-size="18" text-anchor="end" font-weight="normal" font-style="normal" >.01</text>
<text transform="translate(103.2 894.9)" font-size="18" text-anchor="end" font-weight="normal" font-style="normal" >.001</text>
<path d="M322 757.5V759.7M385.8 663V664" stroke="#000" stroke-width="1.2"/>
<text transform="translate(132.0 923.8) scale(1.0 1.04)" font-size="21.0" text-anchor="start" font-weight="normal" font-style="normal" >TCR&#946;/MIY</text>
<text transform="translate(279.6 923.6) scale(1.0 1.04)" font-size="21.4" text-anchor="start" font-weight="normal" font-style="normal" >TCR&#946;/c-Myc</text>
<text x="64.5" y="855.5" font-size="21.8" transform="rotate(-90 64.5 855.5)">DP Cellularity&#160;&#160;(x10<tspan font-size="14" dy="-8">5</tspan><tspan dy="8">)</tspan></text>
<text transform="translate(3.0 966.5)" font-size="24" text-anchor="start" font-weight="bold" font-style="normal" >C</text>
<text transform="translate(104.9 960.2)" font-size="18" text-anchor="end" font-weight="normal" font-style="normal" >1000</text>
<text transform="translate(104.9 1051.2)" font-size="18" text-anchor="end" font-weight="normal" font-style="normal" >100</text>
<text transform="translate(104.9 1143.9)" font-size="18" text-anchor="end" font-weight="normal" font-style="normal" >10</text>
<text transform="translate(104.9 1236.6)" font-size="18" text-anchor="end" font-weight="normal" font-style="normal" >1.0</text>
<rect x="188.2" y="1025.0" width="28.600000000000012" height="210.4000000000001" fill="#0a0f94" stroke="#000" stroke-width="1.2"/>
<rect x="220.9" y="960.0" width="27.49999999999999" height="275.4000000000001" fill="#5b95dc" stroke="#000" stroke-width="1.2"/>
<rect x="275.40000000000003" y="1095.0" width="27.49999999999999" height="140.4000000000001" fill="#000" stroke="#000" stroke-width="1.2"/>
<rect x="307.0" y="1081.8" width="28.100000000000012" height="153.60000000000014" fill="#b3b3b3" stroke="#000" stroke-width="1.2"/>
<rect x="339.1" y="1000.8" width="28.100000000000012" height="234.60000000000014" fill="#0a0f94" stroke="#000" stroke-width="1.2"/>
<rect x="371.3" y="969.3" width="27.49999999999999" height="266.10000000000014" fill="#5b95dc" stroke="#000" stroke-width="1.2"/>
<rect x="111.5" y="949.4" width="301.1" height="286.0000000000001" fill="none" stroke="#111" stroke-width="1.6"/>
<path d="M109.7 949.4H111.5M109.7 1044.6H111.5M109.7 1139.6H111.5M109.7 1235.4H111.5M262.5 1235.4V1237.6000000000001M412.6 1235.4V1237.6000000000001M111.5 1235.4V1237.6000000000001M170.5 1235.4V1232.9" stroke="#111" stroke-width="1.4"/>
<path d="M321 1076.6V1081.8M385 967V969.3" stroke="#000" stroke-width="1.2"/>
<text transform="translate(131.6 1267.8) scale(1.0 1.04)" font-size="21.0" text-anchor="start" font-weight="normal" font-style="normal" >TCR&#946;/MIY</text>
<text transform="translate(279.6 1268.6) scale(1.0 1.04)" font-size="21.4" text-anchor="start" font-weight="normal" font-style="normal" >TCR&#946;/c-Myc</text>
<text x="58.2" y="1234.5" font-size="21.6" transform="rotate(-90 58.2 1234.5)">Fold expansion (x10<tspan font-size="14" dy="-8">2</tspan><tspan dy="8">) / input</tspan></text>
</svg></body></html>
